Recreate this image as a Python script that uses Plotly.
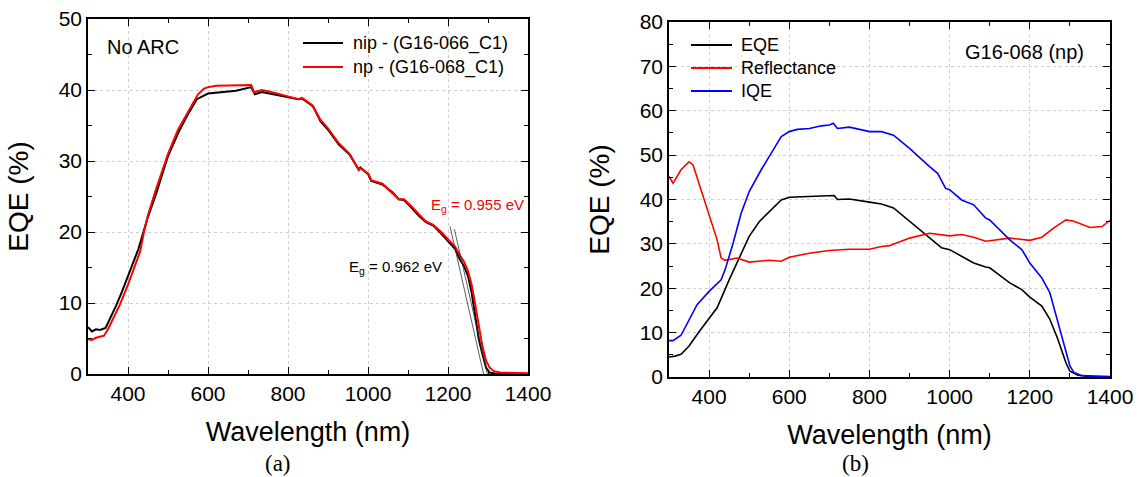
import plotly.graph_objects as go

# ---------------- Panel (a): EQE of two cells without ARC ----------------
nip_wl = [300, 310, 320, 330, 344, 353, 370, 385, 400, 426, 448, 471, 500, 526, 550,
          572, 600, 644, 670, 700, 708, 717, 735, 763, 800, 826, 835, 863, 881, 900,
          927, 954, 977, 981, 1001, 1008, 1036, 1063, 1077, 1090, 1109, 1127, 1145,
          1163, 1181, 1200, 1218, 1229, 1240, 1250, 1259, 1268, 1277, 1286, 1295,
          1304, 1320, 1400]
nip_eqe = [6.6, 6.0, 6.3, 6.2, 6.5, 7.5, 9.6, 11.6, 13.8, 17.6, 21.8, 25.5, 30.7, 34.0,
           36.6, 38.7, 39.5, 39.7, 39.9, 40.3, 40.4, 39.4, 39.7, 39.4, 39.0, 38.7, 38.8,
           37.7, 35.6, 34.4, 32.3, 30.9, 28.8, 29.1, 28.1, 27.2, 26.7, 25.5, 24.6, 24.5,
           23.4, 22.3, 21.4, 20.9, 19.9, 18.7, 17.6, 16.2, 15.2, 13.8, 11.5, 8.2, 4.9,
           2.8, 0.9, 0.2, 0.05, 0.0]

np_wl = [300, 310, 320, 330, 340, 350, 360, 380, 400, 420, 430, 440, 450, 470, 490,
         500, 525, 550, 575, 590, 600, 620, 650, 680, 700, 708, 715, 735, 760, 800,
         826, 835, 860, 880, 900, 927, 954, 977, 981, 1001, 1008, 1036, 1063, 1077,
         1090, 1109, 1127, 1145, 1163, 1181, 1200, 1218, 1229, 1240, 1250, 1259, 1268,
         1277, 1286, 1295, 1304, 1315, 1330, 1400]
np_eqe = [4.9, 4.8, 5.1, 5.2, 5.4, 6.3, 7.4, 9.8, 12.6, 15.6, 17.2, 20.0, 22.4, 26.0,
          29.5, 31.0, 34.4, 37.0, 39.4, 40.2, 40.4, 40.6, 40.6, 40.7, 40.7, 40.7, 39.7,
          40.0, 39.7, 39.1, 38.7, 38.9, 37.9, 35.9, 34.6, 32.5, 31.0, 28.7, 29.0, 28.2,
          27.3, 26.8, 25.4, 24.6, 24.6, 23.6, 22.5, 21.5, 21.0, 20.1, 19.0, 17.9, 16.8,
          15.8, 14.5, 12.6, 9.8, 6.8, 3.9, 1.9, 0.9, 0.4, 0.2, 0.1]

names_a = ["nip - (G16-066_C1)", "np - (G16-068_C1)"]

# band-gap values and the upper points of their linear edge fits
eg_values = [0.962, 0.955]
eg_fit_top_wl = [1205, 1216]
eg_fit_top_eqe = [20.8, 20.4]

# ---------------- Panel (b): EQE, reflectance and IQE of G16-068 ----------------
b_eqe_wl = [300, 315, 330, 350, 375, 400, 420, 450, 480, 500, 525, 550, 580, 600, 650,
            700, 712, 720, 750, 800, 830, 860, 900, 950, 980, 1000, 1030, 1060, 1090,
            1100, 1150, 1180, 1200, 1230, 1250, 1270, 1290, 1300, 1320, 1350, 1400]
b_eqe = [4.5, 4.7, 5.1, 7.0, 10.2, 13.3, 15.6, 21.9, 27.9, 31.7, 35.0, 37.3, 39.9, 40.5,
         40.7, 40.8, 40.9, 40.0, 40.1, 39.4, 39.0, 38.1, 35.1, 31.3, 29.1, 28.7, 27.2,
         25.7, 24.8, 24.6, 21.2, 19.7, 18.0, 16.0, 13.0, 8.5, 3.2, 1.3, 0.4, 0.1, 0.0]

refl_wl = [300, 310, 330, 350, 360, 380, 400, 420, 430, 440, 470, 500, 550, 580, 600,
           650, 700, 750, 800, 830, 850, 900, 950, 1000, 1030, 1060, 1090, 1120, 1150,
           1200, 1230, 1260, 1290, 1310, 1350, 1380, 1400]
refl = [45.2, 43.7, 46.7, 48.5, 47.8, 42.2, 36.2, 30.9, 26.8, 26.3, 26.8, 25.9, 26.3,
        26.1, 27.0, 27.9, 28.5, 28.8, 28.8, 29.4, 29.6, 31.3, 32.4, 31.8, 32.1, 31.5,
        30.6, 30.9, 31.3, 30.8, 31.5, 33.6, 35.4, 35.1, 33.7, 33.9, 35.3]

iqe_wl = [300, 310, 330, 350, 370, 400, 430, 440, 460, 480, 500, 530, 560, 580, 600,
          620, 650, 680, 700, 710, 720, 750, 800, 830, 860, 900, 950, 970, 990, 1000,
          1030, 1060, 1090, 1100, 1150, 1180, 1200, 1230, 1250, 1270, 1290, 1300, 1310,
          1330, 1400]
iqe = [8.2, 8.2, 9.4, 13.0, 16.3, 19.3, 21.9, 24.2, 30.2, 36.9, 41.8, 46.7, 51.2, 54.2,
       55.3, 55.8, 56.0, 56.6, 56.8, 57.2, 56.0, 56.3, 55.3, 55.3, 54.5, 51.5, 47.4, 45.9,
       42.5, 42.2, 39.9, 38.8, 35.8, 35.4, 30.9, 28.7, 25.7, 22.3, 19.0, 12.2, 5.5, 2.5,
       1.0, 0.3, 0.1]

names_b = ["EQE", "Reflectance", "IQE"]

BLACK, RED, BLUE = "#000000", "#ff0000", "#0000ff"
FONT = "Liberation Sans, Arial, sans-serif"
SERIF = "Liberation Serif, Times New Roman, serif"

W, H = 1139, 477


def px(xp):
    return xp / W


def py(yp):
    return 1 - yp / H


fig = go.Figure()

series_a = [(nip_wl, nip_eqe, names_a[0], BLACK), (np_wl, np_eqe, names_a[1], RED)]
for wl, val, name, col in series_a:
    fig.add_trace(go.Scatter(x=wl, y=val, mode="lines", name=name,
                             line=dict(color=col, width=2), showlegend=False,
                             xaxis="x", yaxis="y"))

# linear fits of the absorption edge, extrapolated to the band-gap wavelength
for eg, wtop, ytop in zip(eg_values, eg_fit_top_wl, eg_fit_top_eqe):
    fig.add_trace(go.Scatter(x=[wtop, 1240.0 / eg], y=[ytop, 0], mode="lines",
                             line=dict(color="#333333", width=0.8),
                             showlegend=False, hoverinfo="skip",
                             xaxis="x", yaxis="y"))

series_b = [(b_eqe_wl, b_eqe, names_b[0], BLACK), (refl_wl, refl, names_b[1], RED),
            (iqe_wl, iqe, names_b[2], BLUE)]
for wl, val, name, col in series_b:
    fig.add_trace(go.Scatter(x=wl, y=val, mode="lines", name=name,
                             line=dict(color=col, width=1.6), showlegend=False,
                             xaxis="x2", yaxis="y2"))


def x_axis(domain, anchor):
    return dict(domain=domain, anchor=anchor, range=[300, 1400], tick0=0, dtick=200,
                ticks="inside", ticklen=7, tickwidth=1.4, tickcolor=BLACK,
                minor=dict(dtick=100, ticks="inside", ticklen=4, tickwidth=1.2,
                           tickcolor=BLACK, showgrid=False),
                showline=True, linecolor=BLACK, linewidth=1.6, mirror="allticks",
                showgrid=True, gridcolor="#cfcfcf", griddash="dot", gridwidth=1,
                zeroline=False, automargin=False,
                tickfont=dict(family=FONT, size=21, color=BLACK),
                title=dict(text="Wavelength (nm)", standoff=18,
                           font=dict(family=FONT, size=27, color=BLACK)))


def y_axis(domain, anchor, top):
    return dict(domain=domain, anchor=anchor, range=[0, top], tick0=0, dtick=10,
                ticks="inside", ticklen=7, tickwidth=1.4, tickcolor=BLACK,
                minor=dict(dtick=5, ticks="inside", ticklen=4, tickwidth=1.2,
                           tickcolor=BLACK, showgrid=False),
                showline=True, linecolor=BLACK, linewidth=1.6, mirror="allticks",
                showgrid=True, gridcolor="#cfcfcf", griddash="dot", gridwidth=1,
                zeroline=False, automargin=False,
                tickfont=dict(family=FONT, size=21, color=BLACK),
                title=dict(text="EQE (%)", standoff=22,
                           font=dict(family=FONT, size=28, color=BLACK)))


# legend boxes: sample line then label, one row per series
shapes, annotations = [], []


def add_legend(entries, x_line0, x_line1, x_text, y_rows):
    for (_, _, name, col), yrow in zip(entries, y_rows):
        shapes.append(dict(type="line", xref="paper", yref="paper",
                           x0=px(x_line0), x1=px(x_line1), y0=py(yrow), y1=py(yrow),
                           line=dict(color=col, width=2)))
        annotations.append(dict(text=name, x=px(x_text), y=py(yrow), xref="paper",
                                yref="paper", xanchor="left", yanchor="middle",
                                showarrow=False,
                                font=dict(family=FONT, size=18, color=BLACK)))


add_legend(series_a, 303, 343, 351, [43, 67])
add_legend(series_b, 691, 732, 739, [45, 68, 91])

annotations += [
    dict(text="No ARC", x=px(105), y=py(47), xref="paper", yref="paper",
         xanchor="left", yanchor="middle", showarrow=False,
         font=dict(family=FONT, size=20, color=BLACK)),
    dict(text="E<sub>g</sub> = 0.955 eV", x=px(429), y=py(205), xref="paper",
         yref="paper", xanchor="left", yanchor="middle", showarrow=False,
         font=dict(family=FONT, size=15, color=RED)),
    dict(text="E<sub>g</sub> = 0.962 eV", x=px(347), y=py(267), xref="paper",
         yref="paper", xanchor="left", yanchor="middle", showarrow=False,
         font=dict(family=FONT, size=15, color=BLACK)),
    dict(text="G16-068 (np)", x=px(963), y=py(52), xref="paper", yref="paper",
         xanchor="left", yanchor="middle", showarrow=False,
         font=dict(family=FONT, size=20, color=BLACK)),
    dict(text="(a)", x=px(278), y=py(463), xref="paper", yref="paper",
         xanchor="center", yanchor="middle", showarrow=False,
         font=dict(family=SERIF, size=23, color=BLACK)),
    dict(text="(b)", x=px(855), y=py(463), xref="paper", yref="paper",
         xanchor="center", yanchor="middle", showarrow=False,
         font=dict(family=SERIF, size=23, color=BLACK)),
]

fig.update_layout(
    width=W, height=H,
    margin=dict(l=0, r=0, t=0, b=0),
    paper_bgcolor="white", plot_bgcolor="white",
    showlegend=False,
    xaxis=x_axis([px(88), px(528)], "y"),
    yaxis=y_axis([py(374), py(19)], "x", 50),
    xaxis2=x_axis([px(669), px(1110)], "y2"),
    yaxis2=y_axis([py(377), py(22)], "x2", 80),
    shapes=shapes,
    annotations=annotations,
)

fig.write_html("out.html")
